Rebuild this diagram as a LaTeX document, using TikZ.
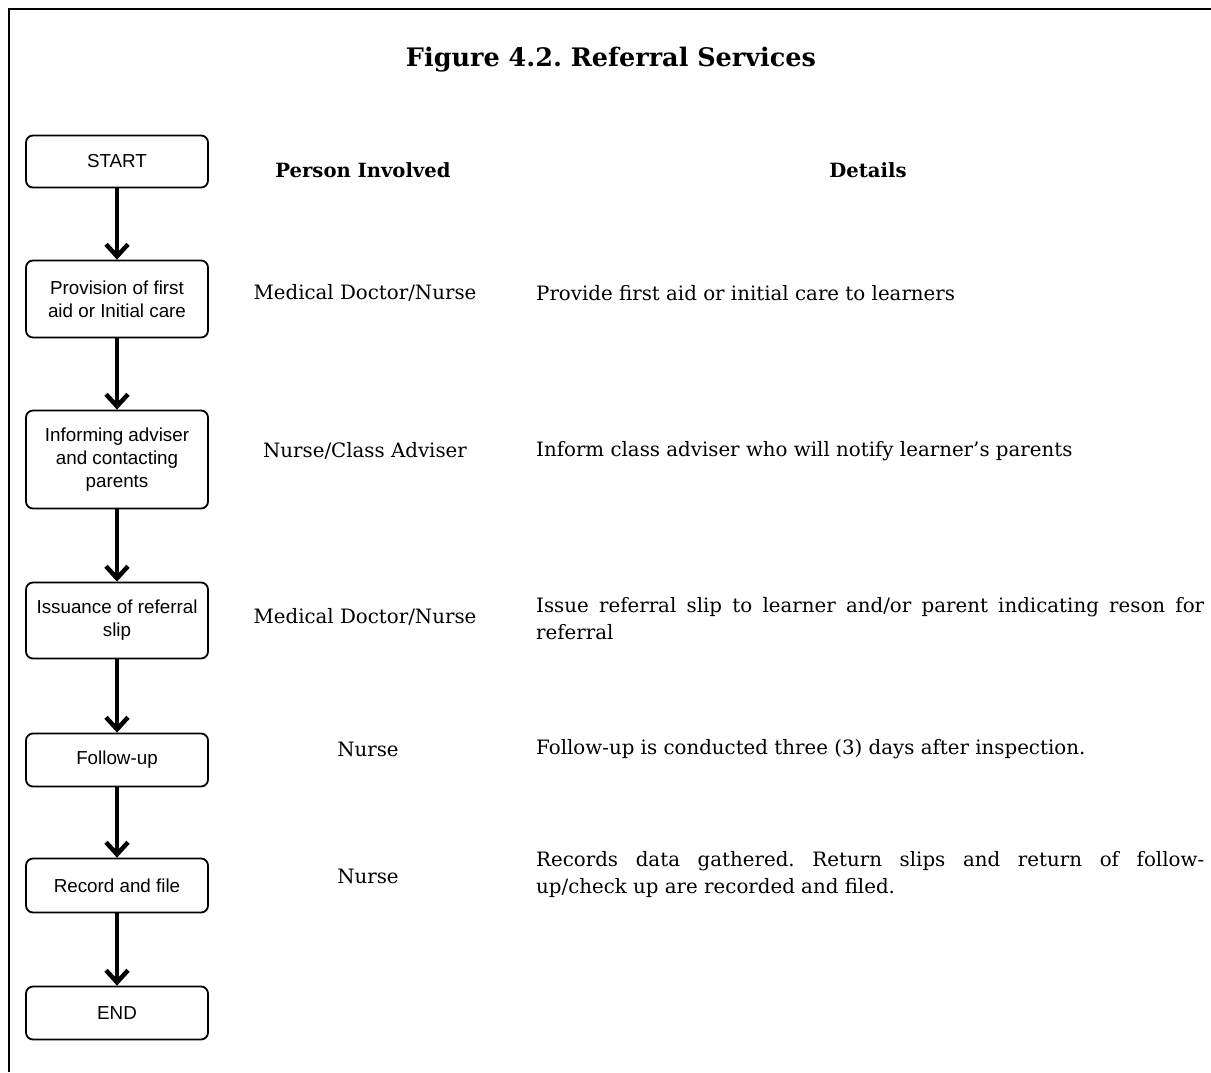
\documentclass[tikz,border=0pt]{standalone}
\usepackage{fontspec}
\setmainfont{DejaVu Serif}
\newfontfamily\boxfont{Liberation Sans}
\usetikzlibrary{arrows.meta}
\frenchspacing
\begin{document}
\begin{tikzpicture}[x=1pt,y=-1pt,
  flowbox/.style={draw, line width=1.8pt, rounded corners=7pt, align=center,
    inner sep=0pt, minimum width=182pt,
    font=\boxfont\fontsize{18.8}{23}\selectfont},
  flowarrow/.style={line width=4.5pt, -{Straight Barb[length=12pt,width=22pt,line width=4.5pt]}},
  persontext/.style={inner sep=0pt, font=\fontsize{19.8}{27}\selectfont},
  detailtext/.style={inner sep=0pt, anchor=west, font=\fontsize{19.8}{27}\selectfont},
  headtext/.style={inner sep=0pt, font=\bfseries\fontsize{19.6}{22}\selectfont},
]
\useasboundingbox (0,0) rectangle (1211,1072);
\draw[line width=2pt] (9,1072) -- (9,9) -- (1211,9);

\node[inner sep=0pt, font=\bfseries\fontsize{25.5}{30}\selectfont] (title) at (611,60) {Figure 4.2. Referral Services};

\node[headtext] (hperson) at (363,170) {Person Involved};
\node[headtext] (hdetails) at (868,170) {Details};

\node[flowbox, minimum height=52pt] (start) at (117,161.5) {START};
\node[flowbox, minimum height=77pt] (prov) at (117,299) {Provision of first\\aid or Initial care};
\node[flowbox, minimum height=98pt] (inform) at (117,459.5) {Informing adviser\\and contacting\\parents};
\node[flowbox, minimum height=76pt] (issue) at (117,620.5) {Issuance of referral\\slip};
\node[flowbox, minimum height=53pt] (follow) at (117,760) {Follow-up};
\node[flowbox, minimum height=54pt] (record) at (117,885.5) {Record and file};
\node[flowbox, minimum height=53pt] (end) at (117,1013) {END};

\draw[flowarrow] (start.south) -- (prov.north);
\draw[flowarrow] (prov.south) -- (inform.north);
\draw[flowarrow] (inform.south) -- (issue.north);
\draw[flowarrow] (issue.south) -- (follow.north);
\draw[flowarrow] (follow.south) -- (record.north);
\draw[flowarrow] (record.south) -- (end.north);

\node[persontext] (p1) at (365,293) {Medical Doctor/Nurse};
\node[persontext] (p2) at (365,451) {Nurse/Class Adviser};
\node[persontext] (p3) at (365,617) {Medical Doctor/Nurse};
\node[persontext] (p4) at (368,749) {Nurse};
\node[persontext] (p5) at (368,876) {Nurse};

\node[detailtext] (d1) at (536,293) {Provide first aid or initial care to learners};
\node[detailtext] (d2) at (536,451) {Inform class adviser who will notify learner's parents};
\node[detailtext, text width=668pt, align=justify] (d3) at (536,618.5) {Issue referral slip to learner and/or parent indicating reson for\linebreak referral};
\node[detailtext] (d4) at (536,749) {Follow-up is conducted three (3) days after inspection.};
\node[detailtext, text width=668pt, align=justify] (d5) at (536,875) {Records data gathered. Return slips and return of follow-\linebreak up/check up are recorded and filed.};
\end{tikzpicture}
\end{document}
